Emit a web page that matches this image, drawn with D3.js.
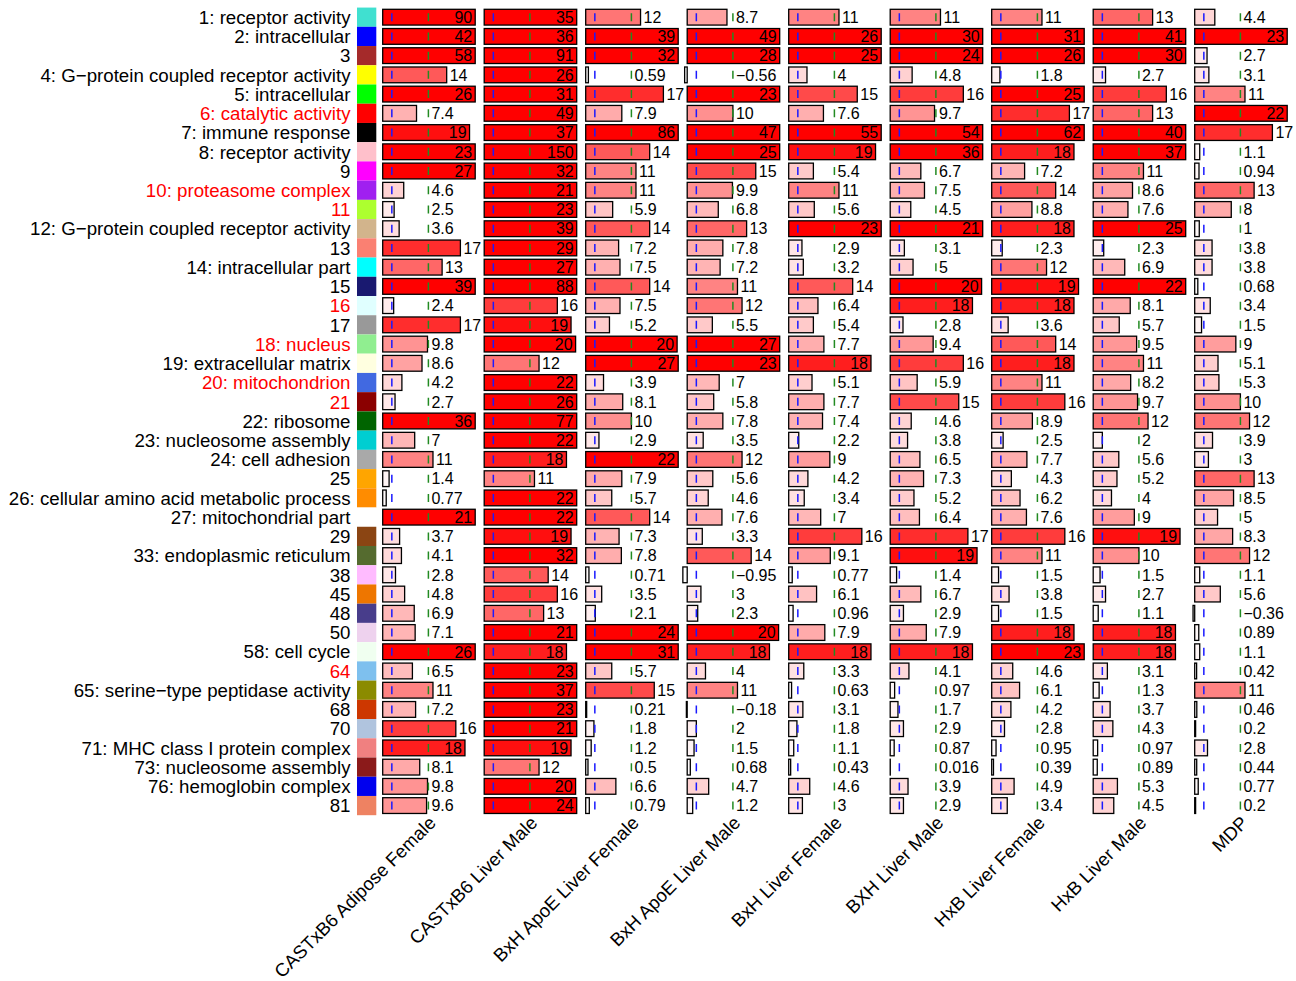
<!DOCTYPE html>
<html>
<head>
<meta charset="utf-8">
<script src="https://cdn.jsdelivr.net/npm/d3@7"></script>
<style>
  html, body { margin: 0; padding: 0; background: #fff; }
  svg { display: block; font-family: "Liberation Sans", Arial, Helvetica, sans-serif; }
</style>
</head>
<body>
<svg id="chart" width="1296" height="981"></svg>
<script>
// Module labels (row order, top to bottom)
const moduleLabels = [
  "1: receptor activity", "2: intracellular", "3", "4: G\u2212protein coupled receptor activity",
  "5: intracellular", "6: catalytic activity", "7: immune response", "8: receptor activity", "9",
  "10: proteasome complex", "11", "12: G\u2212protein coupled receptor activity", "13",
  "14: intracellular part", "15", "16", "17", "18: nucleus", "19: extracellular matrix",
  "20: mitochondrion", "21", "22: ribosome", "23: nucleosome assembly", "24: cell adhesion", "25",
  "26: cellular amino acid metabolic process", "27: mitochondrial part", "29",
  "33: endoplasmic reticulum", "38", "45", "48", "50", "58: cell cycle", "64",
  "65: serine\u2212type peptidase activity", "68", "70", "71: MHC class I protein complex",
  "73: nucleosome assembly", "76: hemoglobin complex", "81"
];

// Module colour swatches
const moduleColors = [
  "#40E0D0", "#0000FF", "#A52A2A", "#FFFF00", "#00FF00", "#FF0000", "#000000", "#FFC0CB", "#FF00FF",
  "#A020F0", "#ADFF2F", "#D2B48C", "#FA8072", "#00FFFF", "#191970", "#E0FFFF", "#999999", "#90EE90",
  "#FFFFE0", "#4169E1", "#8B0000", "#006400", "#00CED1", "#A9A9A9", "#FFA500", "#FF8C00", "#FFFFFF",
  "#8B4513", "#556B2F", "#FFBBFF", "#EE7600", "#483D8B", "#EED2EE", "#F0FFF0", "#7EC0EE", "#8B8B00",
  "#CD3700", "#B0C4DE", "#F08080", "#8B1A1A", "#0000EE", "#EE8262"
];

// Modules whose labels are highlighted in red
const highlightedModules = ["6", "10", "11", "16", "18", "20", "21", "64"];

// Data sets (columns)
const datasets = [
  "CASTxB6 Adipose Female", "CASTxB6 Liver Male", "BxH ApoE Liver Female", "BxH ApoE Liver Male",
  "BxH Liver Female", "BXH Liver Male", "HxB Liver Female", "HxB Liver Male", "MDP"
];

// Enrichment scores, one array per data set, in module order
const castAdiposeFemale = [90, 42, 58, 14, 26, 7.4, 19, 23, 27, 4.6, 2.5, 3.6, 17, 13, 39, 2.4, 17, 9.8, 8.6, 4.2, 2.7, 36, 7, 11, 1.4, 0.77, 21, 3.7, 4.1, 2.8, 4.8, 6.9, 7.1, 26, 6.5, 11, 7.2, 16, 18, 8.1, 9.8, 9.6];
const castLiverMale     = [35, 36, 91, 26, 31, 49, 37, 150, 32, 21, 23, 39, 29, 27, 88, 16, 19, 20, 12, 22, 26, 77, 22, 18, 11, 22, 22, 19, 32, 14, 16, 13, 21, 18, 23, 37, 23, 21, 19, 12, 20, 24];
const apoeLiverFemale   = [12, 39, 32, 0.59, 17, 7.9, 86, 14, 11, 11, 5.9, 14, 7.2, 7.5, 14, 7.5, 5.2, 20, 27, 3.9, 8.1, 10, 2.9, 22, 7.9, 5.7, 14, 7.3, 7.8, 0.71, 3.5, 2.1, 24, 31, 5.7, 15, 0.21, 1.8, 1.2, 0.5, 6.6, 0.79];
const apoeLiverMale     = [8.7, 49, 28, -0.56, 23, 10, 47, 25, 15, 9.9, 6.8, 13, 7.8, 7.2, 11, 12, 5.5, 27, 23, 7, 5.8, 7.8, 3.5, 12, 5.6, 4.6, 7.6, 3.3, 14, -0.95, 3, 2.3, 20, 18, 4, 11, -0.18, 2, 1.5, 0.68, 4.7, 1.2];
const bxhLiverFemale    = [11, 26, 25, 4, 15, 7.6, 55, 19, 5.4, 11, 5.6, 23, 2.9, 3.2, 14, 6.4, 5.4, 7.7, 18, 5.1, 7.7, 7.4, 2.2, 9, 4.2, 3.4, 7, 16, 9.1, 0.77, 6.1, 0.96, 7.9, 18, 3.3, 0.63, 3.1, 1.8, 1.1, 0.43, 4.6, 3];
const bxhLiverMale      = [11, 30, 24, 4.8, 16, 9.7, 54, 36, 6.7, 7.5, 4.5, 21, 3.1, 5, 20, 18, 2.8, 9.4, 16, 5.9, 15, 4.6, 3.8, 6.5, 7.3, 5.2, 6.4, 17, 19, 1.4, 6.7, 2.9, 7.9, 18, 4.1, 0.97, 1.7, 2.9, 0.87, 0.016, 3.9, 2.9];
const hxbLiverFemale    = [11, 31, 26, 1.8, 25, 17, 62, 18, 7.2, 14, 8.8, 18, 2.3, 12, 19, 18, 3.6, 14, 18, 11, 16, 8.9, 2.5, 7.7, 4.3, 6.2, 7.6, 16, 11, 1.5, 3.8, 1.5, 18, 23, 4.6, 6.1, 4.2, 2.8, 0.95, 0.39, 4.9, 3.4];
const hxbLiverMale      = [13, 41, 30, 2.7, 16, 13, 40, 37, 11, 8.6, 7.6, 25, 2.3, 6.9, 22, 8.1, 5.7, 9.5, 11, 8.2, 9.7, 12, 2, 5.6, 5.2, 4, 9, 19, 10, 1.5, 2.7, 1.1, 18, 18, 3.1, 1.3, 3.7, 4.3, 0.97, 0.89, 5.3, 4.5];
const mdp               = [4.4, 23, 2.7, 3.1, 11, 22, 17, 1.1, 0.94, 13, 8, 1, 3.8, 3.8, 0.68, 3.4, 1.5, 9, 5.1, 5.3, 10, 12, 3.9, 3, 13, 8.5, 5, 8.3, 12, 1.1, 5.6, -0.36, 0.89, 1.1, 0.42, 11, 0.46, 0.2, 2.8, 0.44, 0.77, 0.2];

// Reference thresholds drawn as dashed lines
const thresholdLow = 2;
const thresholdHigh = 10;

const seriesValues = [castAdiposeFemale, castLiverMale, apoeLiverFemale, apoeLiverMale,
  bxhLiverFemale, bxhLiverMale, hxbLiverFemale, hxbLiverMale, mdp];

const svg = d3.select("#chart");

const rowIds = moduleLabels.map((d, i) => i);
const isHighlighted = label => highlightedModules.includes(label.split(":")[0]);

// Vertical layout: one band per module
const yOuter = d3.scaleBand().domain(rowIds).range([7.57, 815.2]).padding(0);
const y = d3.scaleBand().domain(rowIds).range([7.57, 815.2])
  .paddingInner(0.18).paddingOuter(0.09);

// Horizontal layout: one panel per data set
const xPanel = d3.scaleBand().domain(datasets).range([382.7, 1296.2]).padding(0);
const maxValue = 20.24;
const panelWidth = 92.5;
const x = d3.scaleLinear().domain([0, maxValue]).range([0, panelWidth]);
const xc = v => x(Math.min(v, maxValue));

// Bar fill: white to red with increasing score
const fill = d3.scalePow().exponent(1.2).domain([0, 20]).range(["#ffffff", "#ff0000"]).clamp(true);

// Row labels
svg.append("g").selectAll("text")
  .data(moduleLabels)
  .join("text")
  .attr("x", 350.5)
  .attr("y", (d, i) => yOuter(i) + yOuter.bandwidth() / 2)
  .attr("dy", "0.36em")
  .attr("text-anchor", "end")
  .attr("font-size", 18.7)
  .attr("fill", d => isHighlighted(d) ? "#FF0000" : "#000")
  .text(d => d);

// Colour swatches
svg.append("g").selectAll("rect")
  .data(moduleColors)
  .join("rect")
  .attr("x", 357)
  .attr("y", (d, i) => yOuter(i))
  .attr("width", 19.3)
  .attr("height", yOuter.bandwidth())
  .attr("fill", d => d);

// Panels
datasets.forEach((name, j) => {
  const g = svg.append("g").attr("transform", `translate(${xPanel(name)},0)`);
  const vals = seriesValues[j];

  g.selectAll("rect.bar")
    .data(vals)
    .join("rect")
    .attr("class", "bar")
    .attr("x", v => xc(Math.min(0, v)))
    .attr("y", (v, i) => y(i))
    .attr("width", v => Math.max(0.01, Math.abs(xc(v) - x(0))))
    .attr("height", y.bandwidth())
    .attr("fill", v => v > 0 ? fill(v) : "#ffffff")
    .attr("stroke", "#000")
    .attr("stroke-width", 1.3);

  const dashLen = 8;
  const dashTop = y(0) + (y.bandwidth() - dashLen) / 2;
  const dashBottom = 815.5;
  [[thresholdLow, "#1a1aff"], [thresholdHigh, "#228B22"]].forEach(([t, col]) => {
    g.append("line")
      .attr("x1", x(t)).attr("x2", x(t))
      .attr("y1", dashTop).attr("y2", dashBottom)
      .attr("stroke", col)
      .attr("stroke-width", 1.5)
      .attr("stroke-dasharray", `${dashLen},${(yOuter.step() - dashLen).toFixed(2)}`);
  });

  const fmt = v => (v < 0 ? "\u2212" + Math.abs(v) : String(v));
  g.selectAll("text.val")
    .data(vals)
    .join("text")
    .attr("class", "val")
    .attr("x", v => v >= 18 ? xc(v) - 3 : Math.max(xc(v), x(thresholdHigh)) + 3)
    .attr("y", (v, i) => y(i) + y.bandwidth() / 2)
    .attr("dy", "0.36em")
    .attr("text-anchor", v => v >= 18 ? "end" : "start")
    .attr("font-size", 16)
    .attr("fill", "#000")
    .text(fmt);

  // Data set name, rotated under the panel
  const cx = panelWidth / 2 + 8;
  g.append("text")
    .attr("transform", `translate(${cx},824) rotate(-45)`)
    .attr("text-anchor", "end")
    .attr("font-size", 18.5)
    .attr("fill", "#000")
    .text(name);
});
</script>
</body>
</html>
